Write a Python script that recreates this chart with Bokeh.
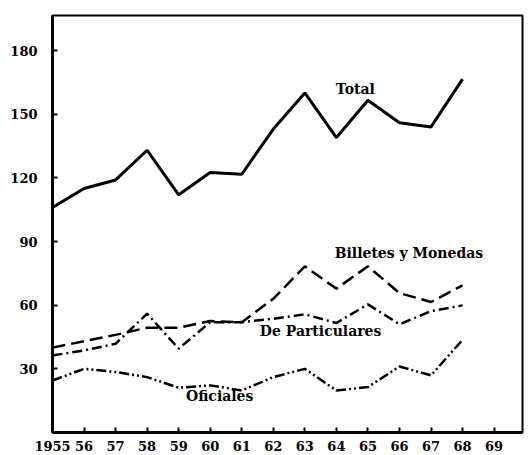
from bokeh.plotting import figure
from bokeh.models import Range1d, FixedTicker, ColumnDataSource
from bokeh.core.properties import value
from bokeh.embed import file_html
from bokeh.resources import INLINE

years = [1955, 1956, 1957, 1958, 1959, 1960, 1961, 1962, 1963, 1964, 1965, 1966, 1967, 1968]
total = [106, 115, 119, 133, 112, 122.5, 121.7, 143, 160, 139, 156.6, 146, 144, 166.5]
billetes = [40, 43, 46, 49.4, 49.4, 52.5, 52, 63, 78.3, 67.8, 78.3, 65.7, 61.5, 69.3]
particulares = [36.3, 38.7, 41.8, 56, 39.5, 52, 52, 53.6, 55.7, 51.6, 60.4, 51, 57.2, 59.9]
oficiales = [24.5, 30, 28.5, 26.1, 21.1, 22.2, 19.8, 26.1, 30, 19.8, 21.4, 31.1, 26.9, 43.7]

x_ticks = list(range(1955, 1970))
x_tick_labels = ["1955"] + [str(y % 100) for y in range(1956, 1970)]
y_ticks = [30, 60, 90, 120, 150, 180]

label_names = ["Total", "Billetes y Monedas", "De Particulares", "Oficiales"]
label_x = [1964.6, 1966.3, 1963.5, 1960.3]
label_y = [162, 84.4, 48, 17]

FONT = "DejaVu Serif"

p = figure(width=532, height=455, output_backend="svg", toolbar_location=None,
           x_range=Range1d(1955, 1969.9), y_range=Range1d(0, 196.5),
           min_border_left=52, min_border_right=10, min_border_top=15, min_border_bottom=23)
p.background_fill_color = "white"
p.border_fill_color = "white"
p.outline_line_color = "black"
p.outline_line_width = 2
p.xgrid.visible = False
p.ygrid.visible = False

for ax in (p.xaxis[0], p.yaxis[0]):
    ax.axis_line_width = 3
    ax.axis_line_color = "black"
    ax.major_tick_in = 5
    ax.major_tick_out = 0
    ax.major_tick_line_width = 2
    ax.minor_tick_line_color = None
    ax.major_label_text_font = FONT
    ax.major_label_text_font_style = "bold"
    ax.major_label_text_font_size = "13px"
    ax.major_label_text_color = "black"

p.xaxis.ticker = FixedTicker(ticks=x_ticks)
p.xaxis.major_label_overrides = {t: l for t, l in zip(x_ticks, x_tick_labels)}
p.xaxis.major_label_standoff = 8
p.yaxis.ticker = FixedTicker(ticks=y_ticks)
p.yaxis.major_label_standoff = 15

p.line(years, total, line_color="black", line_width=3)
p.line(years, billetes, line_color="black", line_width=2.5, line_dash="13 6")
p.line(years, particulares, line_color="black", line_width=2.5, line_dash="10 4 2 4")
p.line(years, oficiales, line_color="black", line_width=2.5, line_dash="10 3 2 3 2 3")

src = ColumnDataSource(dict(x=label_x, y=label_y, t=label_names))
p.text(x="x", y="y", text="t", source=src, text_font=value(FONT), text_font_style="bold",
       text_font_size="14px", text_align="center", text_baseline="middle", text_color="black")

open("out.html", "w").write(file_html(p, INLINE))
